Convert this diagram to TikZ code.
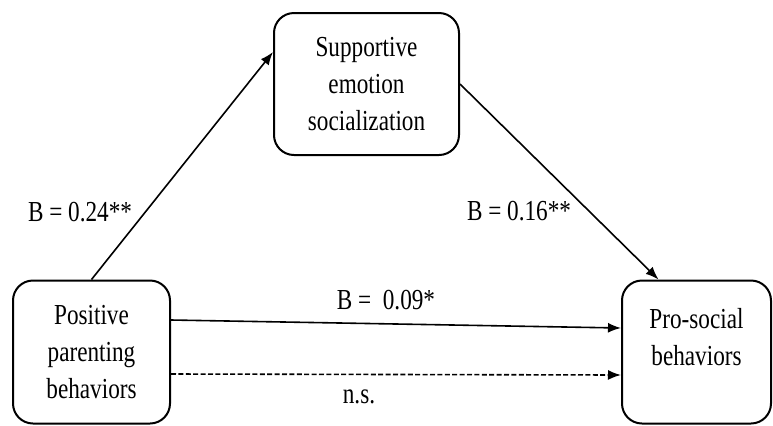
\documentclass[tikz,border=0pt]{standalone}
\usepackage{fontspec}
\setmainfont{Liberation Serif}[FakeStretch=0.8]
\usetikzlibrary{arrows.meta,calc}
\tikzset{
  varbox/.style={
    draw,
    line width=1pt,
    rounded corners=10pt,
    align=center,
    inner sep=0pt
  },
  path/.style={
    line width=0.8pt,
    -{Latex[length=6.5pt,width=5pt]}
  },
  coef/.style={
    inner sep=0pt
  }
}

\begin{document}
\begin{tikzpicture}[x=0.5pt,y=-0.5pt,font=\fontsize{14.5}{18.5}\selectfont]
        \useasboundingbox (0,0) rectangle (773,425);
        % variables
        \node[varbox,minimum width=78.5pt,minimum height=71.5pt] (pos) at (91.5,352) {Positive\\parenting\\behaviors};
        \node[varbox,minimum width=92.5pt,minimum height=71pt] (sup) at (366.5,84) {Supportive\\emotion\\socialization};
        \node[varbox,minimum width=74.5pt,minimum height=71.5pt,
              label={[align=center,yshift=7.5pt]center:Pro-social\\behaviors}] (pro) at (696.5,352) {};
        % paths
        \draw[path] (pos.north) -- ([yshift=16pt]sup.west);
        \draw[path] (sup.east) -- ([xshift=-19pt]pro.north);
        \draw[path] ([yshift=16pt]pos.east) -- ([yshift=12pt]pro.west);
        \draw[path,dash pattern=on 2.5pt off 1.2pt] ([yshift=-11pt]pos.east) -- ([yshift=-11.5pt]pro.west);
        % coefficients
        \node[coef] (a) at (80,212) {B = 0.24**};
        \node[coef] (b) at (519,211) {B = 0.16**};
        \node[coef] (c) at (386,300) {B =\ \ 0.09*};
        \node[coef] (ns) at (359,397) {n.s.};
    \end{tikzpicture}
\end{document}
